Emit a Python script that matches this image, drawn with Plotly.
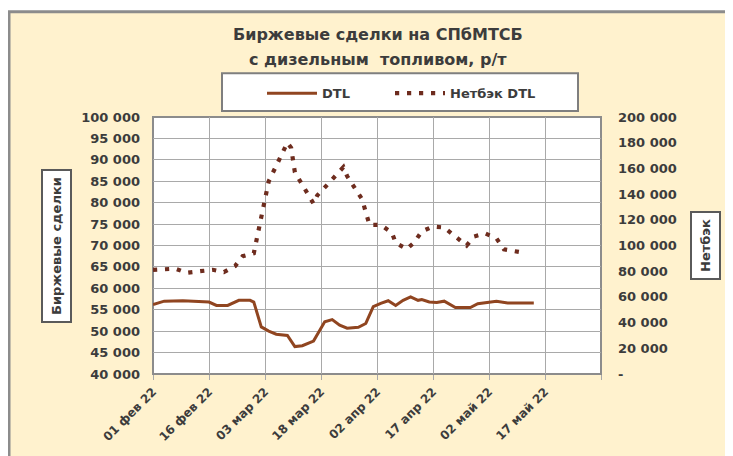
import plotly.graph_objects as go

# ---- data ----
dtl_dates = ["2022-02-01", "2022-02-04", "2022-02-09", "2022-02-15", "2022-02-16", "2022-02-18",
             "2022-02-21", "2022-02-24", "2022-02-27", "2022-02-28", "2022-03-02", "2022-03-04",
             "2022-03-06", "2022-03-09", "2022-03-11", "2022-03-13", "2022-03-16", "2022-03-19",
             "2022-03-21", "2022-03-23", "2022-03-25", "2022-03-28", "2022-03-30", "2022-04-01",
             "2022-04-03", "2022-04-05", "2022-04-07", "2022-04-09", "2022-04-11", "2022-04-13",
             "2022-04-14", "2022-04-16", "2022-04-18", "2022-04-20", "2022-04-23", "2022-04-27",
             "2022-04-29", "2022-05-04", "2022-05-07", "2022-05-14"]
dtl_values = [56200, 57000, 57100, 56700, 56800, 56000,
              56000, 57200, 57200, 56800, 51000, 50000,
              49300, 49000, 46400, 46600, 47700, 52200,
              52700, 51400, 50700, 50900, 51800, 55700,
              56500, 57100, 56000, 57200, 58000, 57200,
              57400, 56800, 56700, 57000, 55500, 55500,
              56400, 57000, 56600, 56600]

netback_dates = ["2022-02-01", "2022-02-07", "2022-02-10", "2022-02-14", "2022-02-17", "2022-02-20",
                 "2022-02-23", "2022-02-25", "2022-02-28", "2022-03-04", "2022-03-09", "2022-03-10",
                 "2022-03-11", "2022-03-16", "2022-03-17", "2022-03-18", "2022-03-24", "2022-03-25",
                 "2022-03-29", "2022-03-31", "2022-04-03", "2022-04-06", "2022-04-07", "2022-04-10",
                 "2022-04-12", "2022-04-14", "2022-04-17", "2022-04-20", "2022-04-23", "2022-04-26",
                 "2022-04-28", "2022-05-01", "2022-05-04", "2022-05-06", "2022-05-10"]
netback_values = [81000, 82000, 78800, 80300, 81100, 79300,
                  84000, 91700, 94000, 150000, 180000, 176000,
                  157000, 132600, 139000, 142000, 161000, 154000,
                  136000, 116000, 116000, 110000, 102000, 97300,
                  102500, 111000, 114800, 114000, 107000, 100000,
                  107000, 109400, 105600, 97000, 95000]

x_tick_dates = ["2022-02-01", "2022-02-16", "2022-03-03", "2022-03-18", "2022-04-02",
                "2022-04-17", "2022-05-02", "2022-05-17", "2022-06-01"]
x_tick_labels = ["01 фев 22", "16 фев 22", "03 мар 22", "18 мар 22", "02 апр 22",
                 "17 апр 22", "02 май 22", "17 май 22", ""]

left_tick_values = [40000, 45000, 50000, 55000, 60000, 65000, 70000, 75000, 80000,
                    85000, 90000, 95000, 100000]
left_tick_labels = ["40 000", "45 000", "50 000", "55 000", "60 000", "65 000", "70 000",
                    "75 000", "80 000", "85 000", "90 000", "95 000", "100 000"]
right_tick_values = [0, 20000, 40000, 60000, 80000, 100000, 120000, 140000, 160000, 180000, 200000]
right_tick_labels = ["-", "20 000", "40 000", "60 000", "80 000", "100 000", "120 000",
                     "140 000", "160 000", "180 000", "200 000"]

title_line1 = "Биржевые сделки на СПбМТСБ"
title_line2 = "с дизельным  топливом, р/т"
left_title = "Биржевые сделки"
right_title = "Нетбэк"

# ---- style ----
FONT = "DejaVu Sans"
TXT = "#3c3c3c"
GRID = "#a9a9a9"

fig = go.Figure()
fig.add_trace(go.Scatter(x=dtl_dates, y=dtl_values, name="DTL", mode="lines",
                         line=dict(color="#904520", width=3), yaxis="y", legend="legend"))
fig.add_trace(go.Scatter(x=netback_dates, y=netback_values, name="Нетбэк DTL", mode="lines",
                         line=dict(color="#6E2C1E", width=4.2, dash="4.2px,7.8px"), yaxis="y2",
                         legend="legend2"))

OFF = 8  # page body margin
W, H = 733 - OFF, 456 - OFF
# plot area in page pixels: x 153..601, y 117..376
PL, PR, PT, PB = 153, 601, 117, 376
L = PL - OFF
T = PT - OFF
R = W - (PR - OFF)
B = H - (PB - OFF)
pw, ph = PR - PL, PB - PT


def px(x):
    return (x - PL) / pw


def py(y):
    return (PB - y) / ph


legend_font = dict(family=FONT, size=13, color=TXT, weight="bold")

fig.update_layout(
    width=W, height=H, autosize=False,
    margin=dict(l=L, r=R, t=T, b=B, pad=0),
    paper_bgcolor="white", plot_bgcolor="white",
    font=dict(family=FONT, color=TXT, size=13),
    showlegend=True,
    legend=dict(orientation="h", x=px(262), xanchor="left", y=py(93), yanchor="middle",
                bgcolor="rgba(0,0,0,0)", borderwidth=0, itemwidth=50, font=legend_font),
    legend2=dict(orientation="h", x=px(390), xanchor="left", y=py(93), yanchor="middle",
                 bgcolor="rgba(0,0,0,0)", borderwidth=0, itemwidth=50, font=legend_font),
    xaxis=dict(type="date", range=["2022-02-01", "2022-06-01"],
               tickmode="array", tickvals=x_tick_dates, ticktext=x_tick_labels,
               tickangle=-45, showgrid=True, gridcolor=GRID, gridwidth=1.2,
               zeroline=False, showline=False, ticks="outside", ticklen=5, tickcolor=GRID,
               tickfont=dict(family=FONT, size=12, color=TXT, weight="bold")),
    yaxis=dict(range=[40000, 100000], tickmode="array", tickvals=left_tick_values,
               ticktext=left_tick_labels, showgrid=True, gridcolor=GRID, gridwidth=1.2,
               zeroline=False, showline=False, ticks="", ticklabelstandoff=12,
               tickfont=dict(family=FONT, size=13, color=TXT, weight="bold")),
    yaxis2=dict(range=[0, 200000], overlaying="y", side="right", tickmode="array",
                tickvals=right_tick_values, ticktext=right_tick_labels, showgrid=False,
                zeroline=False, showline=False, ticks="", ticklabelstandoff=16,
                tickfont=dict(family=FONT, size=13, color=TXT, weight="bold")),
)

shapes = [
    # outer cream chart area
    dict(type="rect", xref="paper", yref="paper", x0=px(9), x1=px(727), y0=py(470), y1=py(11),
         fillcolor="#FFF2CE", line=dict(color="#8c8c8c", width=3), layer="below"),
    # white plot area
    dict(type="rect", xref="paper", yref="paper", x0=0, x1=1, y0=0, y1=1,
         fillcolor="white", line=dict(color="#8c8c8c", width=2), layer="below"),
    # legend box
    dict(type="rect", xref="paper", yref="paper", x0=px(222), x1=px(578), y0=py(111), y1=py(73),
         fillcolor="white", line=dict(color="#7f7f7f", width=2), layer="below"),
]
fig.update_layout(shapes=shapes)

annotations = [
    dict(text=title_line1, xref="paper", yref="paper", x=px(378), y=py(34),
         xanchor="center", yanchor="middle", showarrow=False,
         font=dict(family=FONT, size=16, color=TXT, weight="bold")),
    dict(text=title_line2, xref="paper", yref="paper", x=px(378), y=py(59),
         xanchor="center", yanchor="middle", showarrow=False,
         font=dict(family=FONT, size=16, color=TXT, weight="bold")),
    dict(text=left_title, xref="paper", yref="paper", x=px(57), y=py(247),
         xanchor="center", yanchor="middle", showarrow=False, textangle=-90,
         bgcolor="white", bordercolor="#5a5a5a", borderwidth=2, borderpad=6,
         font=dict(family=FONT, size=13, color=TXT, weight="bold")),
    dict(text=right_title, xref="paper", yref="paper", x=px(706), y=py(247),
         xanchor="center", yanchor="middle", showarrow=False, textangle=-90,
         bgcolor="white", bordercolor="#5a5a5a", borderwidth=2, borderpad=6,
         font=dict(family=FONT, size=13, color=TXT, weight="bold")),
]
fig.update_layout(annotations=annotations)

fig.write_html("out.html")
